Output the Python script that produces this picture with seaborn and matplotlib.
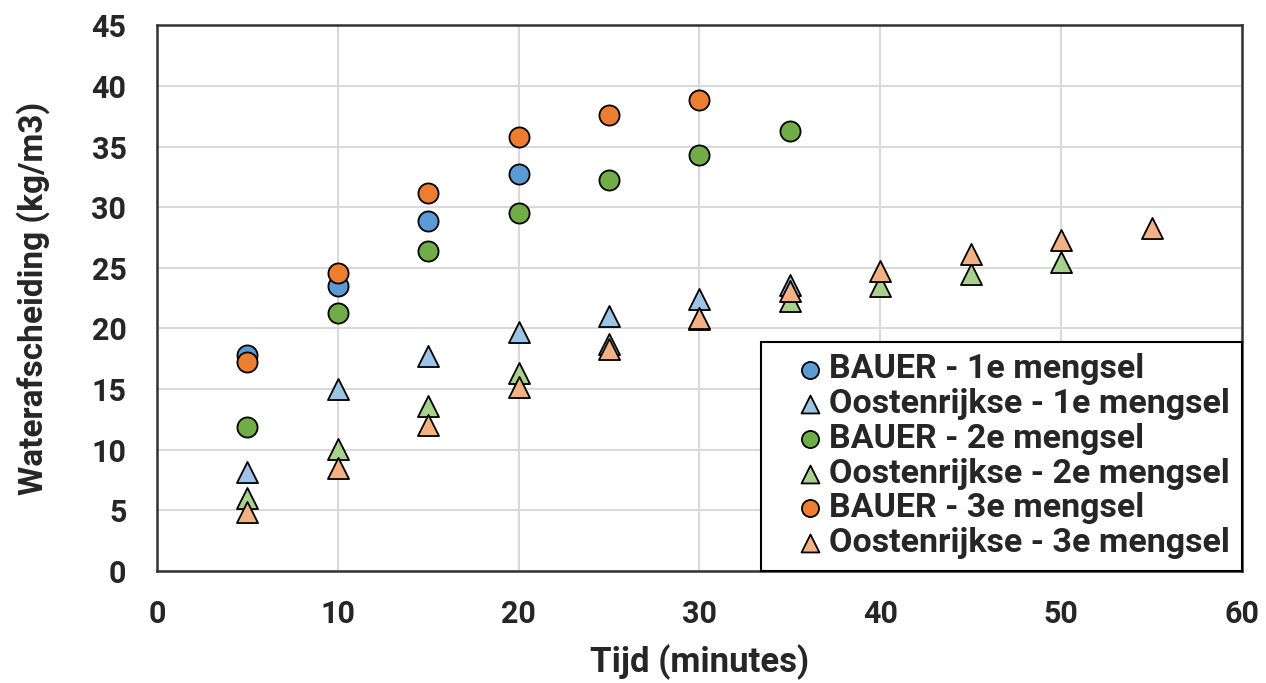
import matplotlib
matplotlib.use("Agg")
import matplotlib.pyplot as plt
import seaborn as sns
import pandas as pd

# Data
bauer1_x = [5, 10, 15, 20]
bauer1_y = [17.8, 23.5, 28.9, 32.7]
oost1_x = [5, 10, 15, 20, 25, 30, 35]
oost1_y = [8.2, 15.0, 17.7, 19.7, 21.0, 22.4, 23.6]
bauer2_x = [5, 10, 15, 20, 25, 30, 35]
bauer2_y = [11.9, 21.3, 26.4, 29.5, 32.2, 34.3, 36.3]
oost2_x = [5, 10, 15, 20, 25, 30, 35, 40, 45, 50]
oost2_y = [6.0, 10.1, 13.6, 16.3, 18.7, 20.8, 22.3, 23.5, 24.5, 25.5]
bauer3_x = [5, 10, 15, 20, 25, 30]
bauer3_y = [17.2, 24.6, 31.2, 35.8, 37.6, 38.8]
oost3_x = [5, 10, 15, 20, 25, 30, 35, 40, 45, 50, 55]
oost3_y = [4.9, 8.5, 12.0, 15.2, 18.3, 20.9, 23.1, 24.7, 26.1, 27.3, 28.3]

labels = ["BAUER - 1e mengsel", "Oostenrijkse - 1e mengsel",
          "BAUER - 2e mengsel", "Oostenrijkse - 2e mengsel",
          "BAUER - 3e mengsel", "Oostenrijkse - 3e mengsel"]
xs = [bauer1_x, oost1_x, bauer2_x, oost2_x, bauer3_x, oost3_x]
ys = [bauer1_y, oost1_y, bauer2_y, oost2_y, bauer3_y, oost3_y]
colors = ["#5B9BD5", "#9DC3E6", "#70AD47", "#A9D18E", "#ED7D31", "#F4B183"]
markers = ["o", "^", "o", "^", "o", "^"]

sns.set_theme(style="white")
plt.rcParams['font.family'] = ['Roboto', 'DejaVu Sans']

fig = plt.figure(figsize=(12.66, 6.83), dpi=100)
ax = fig.add_axes([0.124, 0.164, 0.857, 0.799])

for x, y, lab, c, m in zip(xs, ys, labels, colors, markers):
    df = pd.DataFrame({"x": x, "y": y})
    sns.scatterplot(data=df, x="x", y="y", ax=ax, color=c, marker=m,
                    s=210 if m == "o" else 230, edgecolor="black",
                    linewidth=1.3, label=lab, zorder=3)

ax.set_xlim(0, 60)
ax.set_ylim(0, 45)
ax.set_xticks(range(0, 61, 10))
ax.set_yticks(range(0, 46, 5))
ax.grid(True, color="#D9D9D9", linewidth=1.5, zorder=0)
ax.set_axisbelow(True)
for sp in ax.spines.values():
    sp.set_color("#333333")
    sp.set_linewidth(1.8)

ax.tick_params(axis="y", labelsize=22, length=0, pad=22)
ax.tick_params(axis="x", labelsize=22, length=0, pad=20)
for t in ax.get_xticklabels() + ax.get_yticklabels():
    t.set_fontweight("bold")
ax.set_xlabel("Tijd (minutes)", fontsize=25, fontweight="bold", labelpad=11)
ax.set_ylabel("Waterafscheiding (kg/m3)", fontsize=24, fontweight="bold", labelpad=30)

leg = ax.legend(loc="lower right", bbox_to_anchor=(1.0, 0.0), frameon=True,
                fancybox=False, edgecolor="black", framealpha=1,
                prop={"weight": "bold", "size": 24.5}, handletextpad=-0.55,
                labelspacing=0.08, borderpad=0.35, handlelength=2.2,
                markerscale=0.85, borderaxespad=0.0)
leg.get_frame().set_linewidth(1.5)

fig.savefig("out.png", dpi=100)
